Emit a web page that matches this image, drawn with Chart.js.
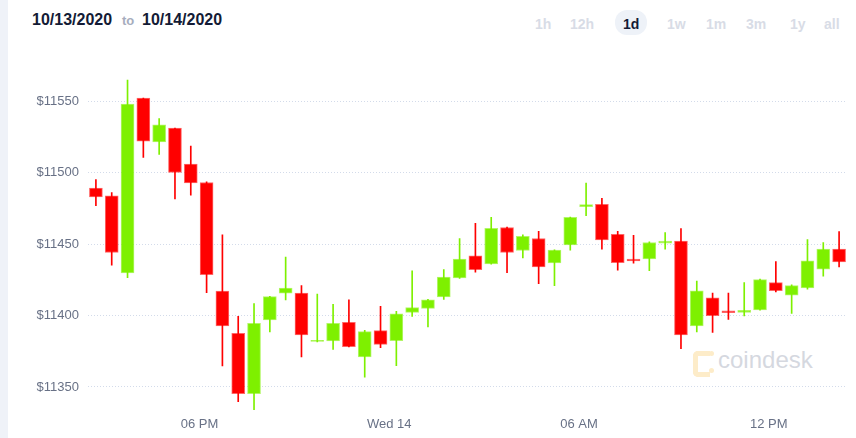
<!DOCTYPE html>
<html>
<head>
<meta charset="utf-8">
<script src="https://cdn.jsdelivr.net/npm/chart.js@4.4.0/dist/chart.umd.min.js"></script>
<style>
html, body { margin: 0; padding: 0; background: #fff; }
body { width: 856px; height: 438px; position: relative; overflow: hidden; font-family: "Liberation Sans", Arial, sans-serif; }
#side { position: absolute; left: 0; top: 0; width: 8px; height: 438px; background: #eff2f8; }
.date { position: absolute; top: 10px; line-height: 20px; font-size: 16px; font-weight: bold; color: #131b35; white-space: nowrap; }
.to { position: absolute; top: 11px; left: 122px; line-height: 20px; font-size: 13px; font-weight: bold; color: #a6adbd; }
.period { position: absolute; top: 14px; line-height: 20px; font-size: 14px; font-weight: bold; color: #d8dce6; white-space: nowrap; }
#pill { position: absolute; left: 615px; top: 10px; width: 32px; height: 25px; border-radius: 12px; background: #eef2f8; }
.period.on { color: #131b35; }
#logo { position: absolute; left: 693px; top: 351px; width: 12px; height: 16px; border: 5px solid #fdecc9; border-right: none; border-radius: 5px 0 0 5px; }
#logo2 { position: absolute; left: 709px; top: 351px; width: 5px; height: 5px; border-radius: 3px; background: #fdecc9; box-shadow: 0 17px 0 #fdecc9; }
#mark { position: absolute; left: 718px; top: 345px; font-size: 24px; line-height: 30px; color: #d5d8df; }
#wrap { position: absolute; left: 8px; top: 0; width: 848px; height: 438px; }
</style>
</head>
<body>
<div id="side"></div>
<span class="date" style="left:32px">10/13/2020</span>
<span class="to">to</span>
<span class="date" style="left:142px">10/14/2020</span>
<div id="pill"></div>
<span class="period" style="left:535px">1h</span>
<span class="period" style="left:570px">12h</span>
<span class="period on" style="left:623px">1d</span>
<span class="period" style="left:667px">1w</span>
<span class="period" style="left:706px">1m</span>
<span class="period" style="left:746px">3m</span>
<span class="period" style="left:790px">1y</span>
<span class="period" style="left:824px">all</span>
<div id="logo"></div>
<div id="logo2"></div>
<div id="mark">coindesk</div>
<div id="wrap"><canvas id="chart"></canvas></div>
<script>
// 30 minute candles, 10/13 afternoon to 10/14 afternoon
var opens = [11489.3, 11483.9, 11429.9, 11552.3, 11521.7, 11531.3, 11506.1, 11493.2, 11417.1, 11387.6,
             11345.3, 11397.0, 11415.7, 11415.7, 11382.0, 11382.2, 11395.3, 11371.0, 11389.5, 11382.5,
             11402.3, 11405.1, 11413.1, 11426.4, 11441.8, 11436.2, 11461.7, 11445.6, 11454.0, 11436.9,
             11449.5, 11476.2, 11478.0, 11457.0, 11439.5, 11439.7, 11450.7, 11452.1, 11392.8, 11412.4,
             11403.3, 11402.3, 11404.0, 11423.1, 11414.3, 11419.4, 11432.5, 11446.5];
var closes = [11483.2, 11444.2, 11548.1, 11522.2, 11533.6, 11500.2, 11493.0, 11428.7, 11392.8, 11345.3,
              11394.6, 11413.3, 11419.2, 11386.4, 11382.7, 11394.6, 11378.3, 11388.8, 11379.9, 11401.2,
              11405.6, 11411.0, 11426.9, 11439.5, 11432.2, 11461.2, 11444.2, 11455.6, 11434.1, 11445.8,
              11468.9, 11477.8, 11453.0, 11437.1, 11438.3, 11451.2, 11452.1, 11386.4, 11417.3, 11400.0,
              11402.1, 11403.7, 11425.2, 11417.5, 11421.0, 11438.3, 11446.5, 11437.6];
var highs = [11495.3, 11486.2, 11565.0, 11552.3, 11537.9, 11531.3, 11518.7, 11493.7, 11456.5, 11399.5,
             11408.4, 11413.5, 11440.9, 11421.0, 11415.0, 11407.9, 11411.0, 11389.7, 11406.5, 11403.0,
             11431.3, 11411.4, 11432.2, 11454.0, 11464.7, 11468.9, 11462.0, 11456.5, 11459.1, 11446.0,
             11469.0, 11492.8, 11482.2, 11459.1, 11456.3, 11451.6, 11458.2, 11461.0, 11424.1, 11415.7,
             11415.7, 11423.1, 11425.5, 11437.9, 11421.5, 11453.3, 11451.2, 11458.9];
var lows = [11476.9, 11435.3, 11426.6, 11510.7, 11512.9, 11481.8, 11484.3, 11416.1, 11364.7, 11339.7,
            11334.1, 11388.6, 11411.0, 11371.0, 11381.5, 11376.4, 11378.0, 11356.8, 11377.6, 11365.0,
            11399.5, 11392.1, 11411.4, 11426.0, 11430.4, 11436.0, 11430.1, 11440.4, 11422.4, 11421.0,
            11445.8, 11469.9, 11446.5, 11431.8, 11436.7, 11431.5, 11446.5, 11376.9, 11388.6, 11388.3,
            11397.4, 11399.8, 11403.8, 11416.6, 11401.6, 11418.5, 11427.6, 11434.1];

var yTicks = [11350, 11400, 11450, 11500, 11550];
var xTickPos = [6.55, 18.55, 30.55, 42.55];
var xTickLabels = ["06 PM", "Wed 14", "06 AM", "12 PM"];

var upColor = "#7ef000";
var downColor = "#ff0000";
var labelColor = "#687186";

var bodies = [];
var wicks = [];
var fills = [];
var edges = [];

for (var i = 0; i < opens.length; i++) {
    bodies.push({ x: i, y: [opens[i], closes[i]] });
    wicks.push({ x: i, y: [lows[i], highs[i]] });
    var up = closes[i] >= opens[i];
    fills.push(up ? upColor : downColor);
    edges.push(up ? "rgba(126,240,0,0.6)" : "rgba(255,0,0,0.6)");
}

var tickFont = { family: "'Liberation Sans', Arial, sans-serif", size: 13 };

new Chart(document.getElementById("chart"), {
    type: "bar",
    data: {
        datasets: [{
            data: wicks,
            backgroundColor: fills,
            barThickness: 1,
            grouped: false,
            order: 2
        }, {
            data: bodies,
            backgroundColor: fills,
            borderColor: edges,
            borderWidth: 1,
            borderSkipped: false,
            barThickness: 13,
            grouped: false,
            order: 1
        }]
    },
    options: {
        responsive: true,
        maintainAspectRatio: false,
        animation: false,
        layout: { padding: { left: 0, right: 9, top: 60, bottom: 0 } },
        plugins: {
            legend: { display: false },
            tooltip: { enabled: false }
        },
        scales: {
            x: {
                type: "linear",
                min: -0.5,
                max: 47.5,
                offset: false,
                afterBuildTicks: function (s) {
                    s.ticks = xTickPos.map(function (v) { return { value: v }; });
                },
                afterFit: function (s) { s.height = 25.3; },
                ticks: {
                    callback: function (v, idx) { return xTickLabels[idx]; },
                    autoSkip: false,
                    maxRotation: 0,
                    minRotation: 0,
                    padding: 4,
                    color: labelColor,
                    font: tickFont
                },
                grid: { display: false, drawTicks: false, offset: false },
                border: { display: false }
            },
            y: {
                min: 11332,
                max: 11579,
                z: 1,
                afterBuildTicks: function (s) {
                    s.ticks = yTicks.map(function (v) { return { value: v }; });
                },
                afterFit: function (s) { s.width = 80; },
                ticks: {
                    callback: function (v) { return "$" + v; },
                    padding: 9,
                    color: labelColor,
                    font: tickFont
                },
                grid: { color: "#d3dbea", drawTicks: false, lineWidth: 1 },
                border: { display: false, dash: [1, 2] }
            }
        }
    }
});
</script>
</body>
</html>
